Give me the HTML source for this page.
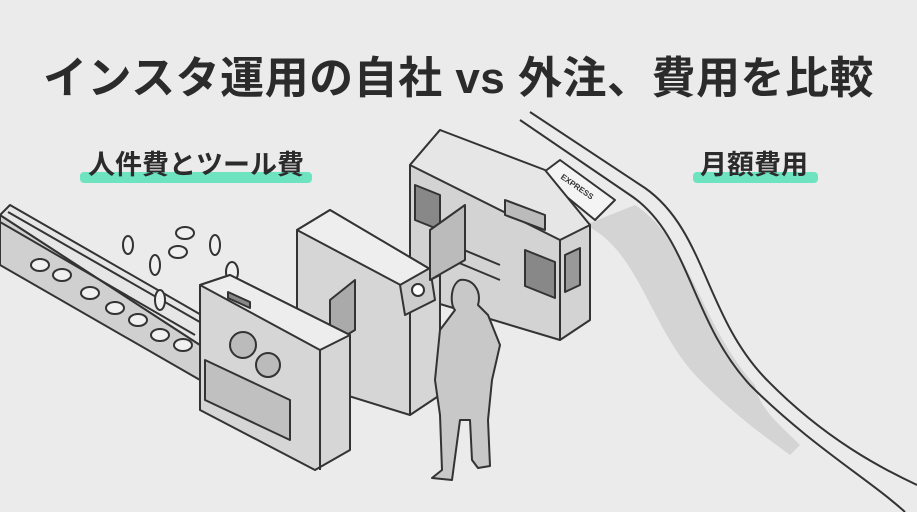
<!DOCTYPE html>
<html><head><meta charset="utf-8"><style>
html,body{margin:0;padding:0;background:#ebebec;}
body{width:917px;height:512px;overflow:hidden;position:relative;font-family:"Liberation Sans","Noto Sans CJK JP",sans-serif;}
.t{position:absolute;left:0;width:917px;top:42px;text-align:center;font-size:44px;font-weight:bold;color:#2b2b2b;letter-spacing:0.5px;}
.l{position:absolute;font-size:27px;font-weight:bold;color:#2b2b2b;}
.bar{position:absolute;height:11px;background:#6ee3bf;border-radius:4px;}
svg{position:absolute;left:0;top:0;}
</style></head><body>
<svg width="917" height="512" viewBox="0 0 917 512" fill="none" stroke="#333" stroke-width="2" stroke-linejoin="round">
<!-- ramp -->
<path d="M585 225 C640 250 650 330 700 380 C740 420 770 440 790 455 L800 445 C780 425 760 410 755 385 C700 325 690 240 635 205 Z" fill="#d4d4d5" stroke="none"/>
<path d="M520 120 L630 195 C690 235 690 320 750 385 C810 445 870 480 905 512" />
<path d="M530 112 L645 188 C705 230 705 315 765 378 C825 440 885 470 917 485"/>
<!-- ticket -->
<path d="M540 175 L560 160 L615 200 L595 220 Z" fill="#f4f4f4"/>
<text x="558" y="185" font-size="8" font-weight="bold" fill="#333" stroke="none" transform="rotate(35 570 185)">EXPRESS</text>
<!-- train -->
<path d="M410 165 L410 295 L560 340 L590 320 L590 225 L540 175 L440 130 Z" fill="#d3d3d4"/>
<path d="M410 165 L440 130 L545 170 L590 225 L560 240 Z" fill="#e6e6e7"/>
<path d="M560 240 L560 340"/>
<path d="M415 185 L440 195 L440 230 L415 220 Z" fill="#888"/>
<path d="M525 250 L555 262 L555 298 L525 286 Z" fill="#888"/>
<path d="M565 255 L580 248 L580 285 L565 292 Z" fill="#999"/>
<path d="M505 200 L545 215 L545 230 L505 215 Z" fill="#bbb"/>
<path d="M440 240 L500 265 M440 255 L500 280" />
<!-- gate -->
<path d="M297 230 L297 380 L410 415 L440 395 L440 275 L330 210 Z" fill="#d6d6d7"/>
<path d="M297 230 L330 210 L440 275 L410 290 Z" fill="#eeeeef"/>
<path d="M410 290 L410 415"/>
<path d="M400 285 L430 268 L435 300 L405 315 Z" fill="#ccc"/>
<circle cx="418" cy="290" r="6" fill="#fff"/>
<path d="M330 300 L355 280 L355 330 L330 345 Z" fill="#aaa"/>
<path d="M430 230 L465 205 L465 260 L430 280 Z" fill="#bbb"/>
<!-- conveyor -->
<path d="M0 215 L0 265 L200 380 L200 345 Z" fill="#d0d0d1"/>
<path d="M0 215 L10 205 L210 320 L200 345 Z" fill="#e6e6e7"/>
<path d="M0 222 L195 335 M8 212 L205 325"/>
<g fill="#f0f0f0">
<ellipse cx="40" cy="265" rx="9" ry="6"/><ellipse cx="62" cy="275" rx="9" ry="6"/><ellipse cx="90" cy="293" rx="9" ry="6"/>
<ellipse cx="115" cy="308" rx="9" ry="6"/><ellipse cx="138" cy="320" rx="9" ry="6"/><ellipse cx="160" cy="335" rx="9" ry="6"/><ellipse cx="183" cy="345" rx="9" ry="6"/>
<ellipse cx="128" cy="245" rx="5" ry="9"/><ellipse cx="185" cy="233" rx="9" ry="6"/><ellipse cx="178" cy="252" rx="9" ry="6"/><ellipse cx="155" cy="265" rx="5" ry="10"/><ellipse cx="215" cy="245" rx="5" ry="10"/><ellipse cx="160" cy="300" rx="5" ry="10"/><ellipse cx="232" cy="272" rx="6" ry="10"/>
</g>
<!-- left machine -->
<path d="M200 285 L200 410 L315 470 L350 450 L350 335 L230 275 Z" fill="#d6d6d7"/>
<path d="M200 285 L230 275 L350 335 L320 350 Z" fill="#ededee"/>
<path d="M320 350 L320 470"/>
<path d="M205 360 L290 400 L290 440 L205 400 Z" fill="#c0c0c1"/>
<circle cx="243" cy="345" r="13" fill="#bbb"/><circle cx="268" cy="365" r="12" fill="#bbb"/>
<path d="M228 292 L250 302 L250 308 L228 298 Z" fill="#888"/>
<!-- man -->
<path d="M460 280 C450 285 450 305 455 310 L440 330 L435 380 L440 415 L442 470 L432 478 L452 480 L460 420 L470 420 L472 460 L478 468 L490 466 L488 420 L492 380 L500 345 L488 315 L478 305 C482 290 472 278 460 280 Z" fill="#c8c8c9"/>
</svg>
<div class="t">インスタ運用の自社 vs 外注、費用を比較</div>
<div class="bar" style="left:80px;top:172px;width:232px"></div>
<div class="l" style="left:88px;top:143px">人件費とツール費</div>
<div class="bar" style="left:693px;top:172px;width:125px"></div>
<div class="l" style="left:700px;top:143px">月額費用</div>
</body></html>
